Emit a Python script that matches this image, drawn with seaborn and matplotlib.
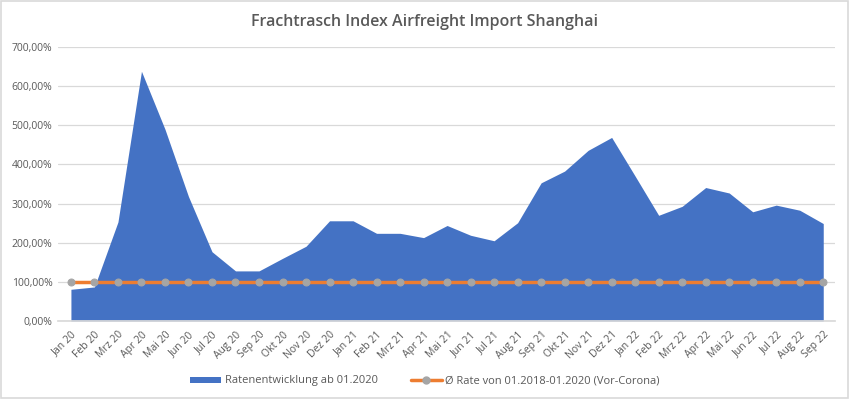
import matplotlib
matplotlib.use("Agg")
import matplotlib.pyplot as plt
import seaborn as sns
import pandas as pd
import numpy as np
from matplotlib.patches import Patch
from matplotlib.lines import Line2D
from matplotlib.ticker import FuncFormatter

months = ["Jan 20", "Feb 20", "Mrz 20", "Apr 20", "Mai 20", "Jun 20", "Jul 20", "Aug 20",
          "Sep 20", "Okt 20", "Nov 20", "Dez 20", "Jan 21", "Feb 21", "Mrz 21", "Apr 21",
          "Mai 21", "Jun 21", "Jul 21", "Aug 21", "Sep 21", "Okt 21", "Nov 21", "Dez 21",
          "Jan 22", "Feb 22", "Mrz 22", "Apr 22", "Mai 22", "Jun 22", "Jul 22", "Aug 22", "Sep 22"]
rate = [81, 87, 253, 638, 490, 318, 177, 128, 128, 160, 191, 256, 256, 224, 224, 213,
        244, 219, 205, 251, 353, 383, 436, 469, 370, 270, 293, 341, 327, 279, 296, 283, 249]
baseline = [100] * len(months)

series_area = "Ratenentwicklung ab 01.2020"
series_line = "Ø Rate von 01.2018-01.2020 (Vor-Corona)"

df = pd.DataFrame({"idx": np.arange(len(months)), "month": months,
                   "rate": rate, "base": baseline})

sns.set_theme(style="white")
plt.rcParams["font.family"] = ["Open Sans", "DejaVu Sans"]

fig = plt.figure(figsize=(8.5, 3.99), dpi=100)
ax = fig.add_axes([58/850, 1-321/399, (835-58)/850, (321-47)/399])

blue = "#4472C4"
orange = "#ED7D31"
grey = "#A5A5A5"
txt = "#595959"

ax.fill_between(df["idx"], 0, df["rate"], color=blue, linewidth=0, zorder=2)
sns.lineplot(data=df, x="idx", y="base", ax=ax, color=orange, linewidth=2.5,
             marker="o", markersize=5, markerfacecolor=grey, markeredgecolor=grey,
             zorder=3)

ax.set_xlim(-0.55, len(months) - 0.5)
ax.set_ylim(0, 700)
ax.set_yticks(np.arange(0, 701, 100))
ax.yaxis.set_major_formatter(FuncFormatter(lambda v, p: f"{v:.2f}".replace(".", ",") + "%"))
ax.set_xticks(df["idx"])
ax.set_xticklabels(months, rotation=45, ha="right", rotation_mode="anchor")
ax.tick_params(axis="both", labelsize=7.5, colors=txt, length=0, pad=4)
ax.tick_params(axis="x", pad=6)
ax.grid(axis="y", color="#D9D9D9", linewidth=0.9, zorder=0)
ax.set_axisbelow(True)
for s in ["top", "right", "left"]:
    ax.spines[s].set_visible(False)
ax.spines["bottom"].set_color("#D9D9D9")
ax.set_xlabel("")
ax.set_ylabel("")

fig.text(0.5, 1-22/399, "Frachtrasch Index Airfreight Import Shanghai", ha="center", va="center",
         fontsize=11.5, color=txt, fontweight="semibold")

handles = [Patch(facecolor=blue, edgecolor="none"),
           Line2D([0], [0], color=orange, linewidth=2.5, marker="o", markersize=5,
                  markerfacecolor=grey, markeredgecolor=grey)]
fig.legend(handles, [series_area, series_line], loc="center", bbox_to_anchor=(0.5, 1-381/399),
           ncol=2, frameon=False, fontsize=8, labelcolor=txt, handlelength=2.8,
           handleheight=0.45, columnspacing=3, handletextpad=0.3)

fig.patches.append(plt.Rectangle((0.001, 0.002), 0.997, 0.995, transform=fig.transFigure,
                                 fill=False, edgecolor="#D9D9D9", linewidth=1.2))

fig.savefig("out.png", dpi=100)
